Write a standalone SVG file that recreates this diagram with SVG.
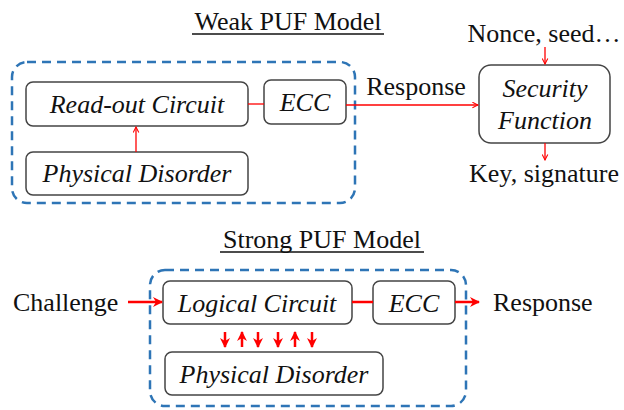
<svg xmlns="http://www.w3.org/2000/svg" width="624" height="410" viewBox="0 0 624 410">
<style>
.box{fill:#fff;stroke:#444;stroke-width:1.5}
.grp{fill:none;stroke:#2e75b6;stroke-width:2.5;stroke-dasharray:9,6}
</style>
<defs>
<marker id="ah" viewBox="0 0 10 10" refX="9" refY="5" markerWidth="7" markerHeight="7" markerUnits="userSpaceOnUse" orient="auto"><path d="M1,1 L9,5 L1,9" fill="none" stroke="#f00" stroke-width="1.5"/></marker>
<marker id="ahb" viewBox="0 0 10 10" refX="9" refY="5" markerWidth="4" markerHeight="4" orient="auto"><path d="M0,0 L10,5 L0,10 L3,5 Z" fill="#f00"/></marker>
</defs>
<g id="titles">
<text x="288" y="30" text-anchor="middle" font-family="Times New Roman, Liberation Serif, serif" font-size="26" fill="#111">Weak PUF Model</text>
<line x1="192" y1="34" x2="384" y2="34" stroke="#111" stroke-width="1.3"/>
<text x="322" y="248" text-anchor="middle" font-family="Times New Roman, Liberation Serif, serif" font-size="26" fill="#111">Strong PUF Model</text>
<line x1="220" y1="252" x2="424" y2="252" stroke="#111" stroke-width="1.3"/>
</g>
<g id="weak-group"><rect class="grp" x="12" y="62" width="343" height="141" rx="15"/></g>
<g id="readout"><rect class="box" x="26" y="82" width="222" height="44" rx="7"/><text x="137" y="113" text-anchor="middle" font-family="Times New Roman, Liberation Serif, serif" font-size="26" font-style="italic" fill="#111">Read-out Circuit</text></g>
<g id="ecc1"><rect class="box" x="264" y="80" width="82" height="44" rx="7"/><text x="305" y="111" text-anchor="middle" font-family="Times New Roman, Liberation Serif, serif" font-size="26" font-style="italic" fill="#111">ECC</text></g>
<g id="physical1"><rect class="box" x="26" y="152" width="222" height="43" rx="7"/><text x="137" y="182" text-anchor="middle" font-family="Times New Roman, Liberation Serif, serif" font-size="26" font-style="italic" fill="#111">Physical Disorder</text></g>
<g id="security"><rect class="box" x="479" y="65" width="131" height="78" rx="12"/><text x="545" y="97" text-anchor="middle" font-family="Times New Roman, Liberation Serif, serif" font-size="26" font-style="italic" fill="#111">Security</text><text x="545" y="129" text-anchor="middle" font-family="Times New Roman, Liberation Serif, serif" font-size="26" font-style="italic" fill="#111">Function</text></g>
<g id="nonce"><text x="544" y="42" text-anchor="middle" font-family="Times New Roman, Liberation Serif, serif" font-size="26" fill="#111">Nonce, seed…</text></g>
<g id="key"><text x="544" y="182" text-anchor="middle" font-family="Times New Roman, Liberation Serif, serif" font-size="26" fill="#111">Key, signature</text></g>
<g id="response1"><text x="416" y="95" text-anchor="middle" font-family="Times New Roman, Liberation Serif, serif" font-size="26" fill="#111">Response</text></g>
<g id="strong-group"><rect class="grp" x="150" y="270" width="316" height="136" rx="15"/></g>
<g id="logical"><rect class="box" x="163" y="281" width="189" height="43" rx="7"/><text x="257" y="312" text-anchor="middle" font-family="Times New Roman, Liberation Serif, serif" font-size="26" font-style="italic" fill="#111">Logical Circuit</text></g>
<g id="ecc2"><rect class="box" x="373" y="281" width="82" height="43" rx="7"/><text x="414" y="312" text-anchor="middle" font-family="Times New Roman, Liberation Serif, serif" font-size="26" font-style="italic" fill="#111">ECC</text></g>
<g id="physical2"><rect class="box" x="165" y="352" width="218" height="43" rx="7"/><text x="274" y="383" text-anchor="middle" font-family="Times New Roman, Liberation Serif, serif" font-size="26" font-style="italic" fill="#111">Physical Disorder</text></g>
<g id="challenge"><text x="13" y="311" font-family="Times New Roman, Liberation Serif, serif" font-size="26" fill="#111">Challenge</text></g>
<g id="response2"><text x="493" y="311" font-family="Times New Roman, Liberation Serif, serif" font-size="26" fill="#111">Response</text></g>
<g id="connectors" fill="none" stroke="#f00">
<g stroke-width="1.3" marker-end="url(#ah)">
<line x1="136" y1="152" x2="136" y2="127"/>
<line x1="346" y1="105" x2="478" y2="105"/>
<line x1="545" y1="47" x2="545" y2="64"/>
<line x1="545" y1="143" x2="545" y2="160"/>
</g>
<line x1="248" y1="104" x2="264" y2="104" stroke-width="1.3"/>
<line x1="352" y1="302" x2="373" y2="302" stroke-width="2.5"/>
<g stroke-width="2.5" marker-end="url(#ahb)">
<line x1="455" y1="302" x2="479" y2="302"/>
<line x1="128" y1="302" x2="162" y2="302"/>
<line x1="225" y1="332" x2="225" y2="347"/>
<line x1="242" y1="347" x2="242" y2="332"/>
<line x1="258" y1="332" x2="258" y2="347"/>
<line x1="278" y1="332" x2="278" y2="347"/>
<line x1="295" y1="347" x2="295" y2="332"/>
<line x1="312" y1="332" x2="312" y2="347"/>
</g>
</g>
</svg>
